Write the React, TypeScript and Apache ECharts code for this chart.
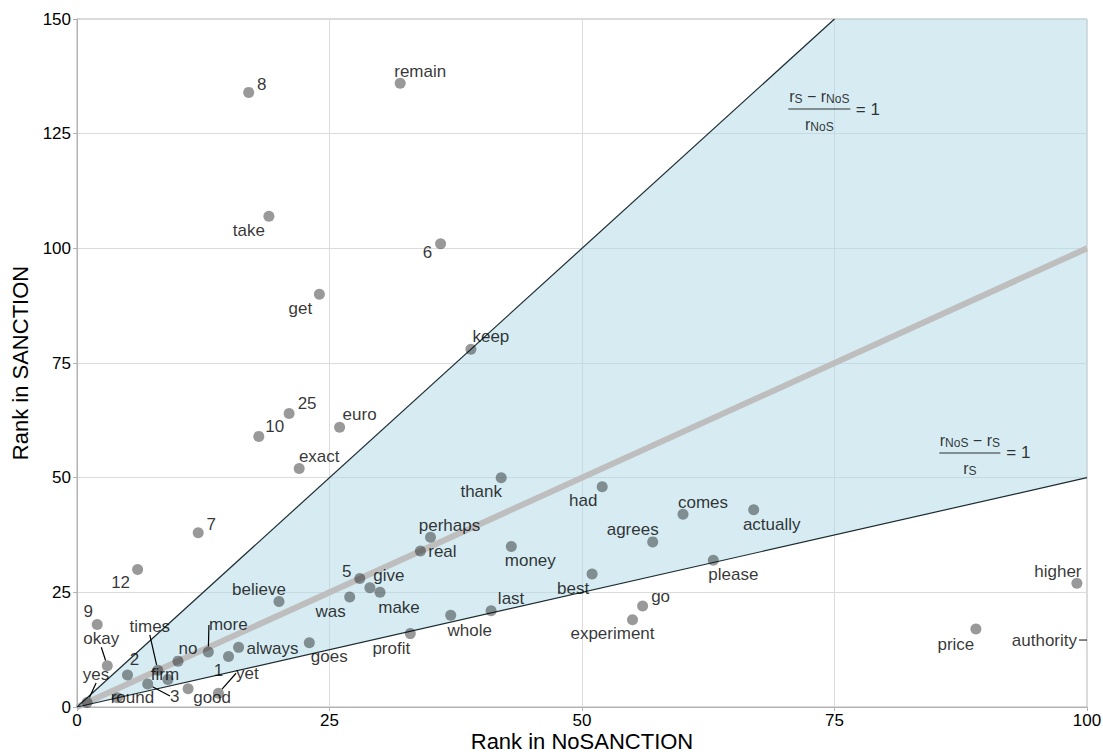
import React, { useEffect, useRef } from 'react';
import * as echarts from 'echarts';

// ---- data ----
const words = [
  '8', 'remain', 'take', '6', 'get', 'keep', '25', 'euro', '10', 'exact',
  'thank', 'had', 'comes', 'actually', '7', 'perhaps', 'agrees', 'money', 'real', 'please',
  '12', 'best', '5', 'give', 'make', 'was', 'believe', 'go', 'experiment', 'higher',
  'last', 'whole', 'profit', 'price', '9', 'goes', 'always', 'more', 'no', '1',
  'times', 'firm', '2', 'okay', 'yes', 'round', '3', 'good', 'yet',
];
const rankNoSanction = [
  17, 32, 19, 36, 24, 39, 21, 26, 18, 22,
  42, 52, 60, 67, 12, 35, 57, 43, 34, 63,
  6, 51, 28, 29, 30, 27, 20, 56, 55, 99,
  41, 37, 33, 89, 2, 23, 16, 13, 10, 15,
  8, 9, 5, 3, 1, 4, 7, 11, 14,
];
const rankSanction = [
  134, 136, 107, 101, 90, 78, 64, 61, 59, 52,
  50, 48, 42, 43, 38, 37, 36, 35, 34, 32,
  30, 29, 28, 26, 25, 24, 23, 22, 19, 27,
  21, 20, 16, 17, 18, 14, 13, 12, 10, 11,
  8, 6, 7, 9, 1, 2, 5, 4, 3,
];
// word whose NoSANCTION rank lies beyond the axis (shown at the panel edge)
const offChartWord = 'authority';
const offChartSanction = 14.6;

const xTicks = [0, 25, 50, 75, 100];
const yTicks = [0, 25, 50, 75, 100, 125, 150];

// reference lines: r_S = 2 r_NoS, r_S = r_NoS, r_S = 0.5 r_NoS
const upperRatio = 2;
const equalRatio = 1;
const lowerRatio = 0.5;

// ---- presentation ----
const FONT = '"Liberation Sans", Arial, Helvetica, sans-serif';

const labelOffsets: Record<string, [number, number]> = {
  '8': [13, -8], remain: [20, -12], take: [-20, 14], '6': [-13, 9], get: [-19, 14],
  keep: [20, -13], '25': [18, -10], euro: [20, -13], '10': [16, -10], exact: [20, -12],
  thank: [-20, 14], had: [-19, 14], comes: [20, -12], actually: [18, 15], '7': [13, -8],
  perhaps: [19, -12], agrees: [-20, -12], money: [19, 14], real: [22, 0], please: [20, 14],
  '12': [-17, 13], best: [-19, 15], '5': [-13, -7], give: [19, -12], make: [19, 15],
  was: [-19, 15], believe: [-20, -12], go: [18, -10], experiment: [-20, 14], higher: [-19, -12],
  last: [20, -12], whole: [19, 15], profit: [-19, 15], price: [-20, 15], '9': [-9, -13],
  goes: [20, 14], always: [34, 1], more: [20, -27], no: [10, -13], '1': [-10, 14],
  times: [-8, -44], firm: [-3, -5], '2': [7, -15], okay: [-6, -27], yes: [9, -28],
  round: [15, 0], '3': [27, 12], good: [24, 9], yet: [29, -20],
};
const withLeader = new Set(['okay', 'yes', 'times', 'more', '3', 'yet']);

export default function App() {
  const ref = useRef<HTMLDivElement>(null);

  useEffect(() => {
    document.body.style.margin = '0';
    if (!ref.current) return;
    const chart = echarts.init(ref.current, undefined, { renderer: 'svg' });

    const xMax = xTicks[xTicks.length - 1];
    const yMax = yTicks[yTicks.length - 1];
    const shade = [
      [0, 0],
      [yMax / upperRatio, yMax],
      [xMax, yMax],
      [xMax, xMax * lowerRatio],
    ];

    const pointData = words.map((w, i) => ({
      name: w,
      value: [rankNoSanction[i], rankSanction[i]],
      labelLine: { show: withLeader.has(w) },
    }));

    const lineSeries = (ratio: number, color: string, width: number, z: number) => {
      const xEnd = Math.min(xMax, yMax / ratio);
      return {
        type: 'line',
        data: [[0, 0], [xEnd, xEnd * ratio]],
        symbol: 'none',
        silent: true,
        z,
        lineStyle: { color, width },
      };
    };

    const labelLayout = (params: any) => {
      const off = labelOffsets[params.text] || [0, 0];
      return { dx: off[0], dy: off[1] };
    };

    const fracRich = {
      a: { fontSize: 16, fontFamily: FONT, color: '#000', lineHeight: 20, verticalAlign: 'bottom' },
      s: { fontSize: 12, fontFamily: FONT, color: '#000', lineHeight: 10, verticalAlign: 'bottom' },
      bar: { width: 62, height: 1, backgroundColor: '#000', lineHeight: 8 },
      bar2: { width: 61, height: 1, backgroundColor: '#000', lineHeight: 8 },
      eq: { fontSize: 17, fontFamily: FONT, color: '#000' },
    };

    chart.setOption({
      animation: false,
      backgroundColor: '#ffffff',
      grid: {
        left: 77, right: 16, top: 19, bottom: 48,
        outerBoundsMode: 'none',
        containLabel: false,
        show: true, borderColor: '#b3b3b3', borderWidth: 1, backgroundColor: 'transparent',
      },
      xAxis: {
        type: 'value', min: 0, max: xMax, interval: 25,
        name: 'Rank in NoSANCTION', nameLocation: 'middle', nameGap: 22,
        nameMoveOverlap: false,
        nameTextStyle: { fontSize: 22, fontFamily: FONT, color: '#000', lineHeight: 24 },
        axisLine: { show: true, lineStyle: { color: '#b3b3b3' } },
        axisTick: { show: true, length: 4, lineStyle: { color: '#b3b3b3' } },
        axisLabel: { fontSize: 17, fontFamily: FONT, color: '#000', margin: 5 },
        splitLine: { show: true, lineStyle: { color: '#dcdcdc' } },
      },
      yAxis: {
        type: 'value', min: 0, max: yMax, interval: 25,
        name: 'Rank in SANCTION', nameLocation: 'middle', nameGap: 44,
        nameTextStyle: { fontSize: 22, fontFamily: FONT, color: '#000' },
        axisLine: { show: true, lineStyle: { color: '#b3b3b3' } },
        axisTick: { show: true, length: 4, lineStyle: { color: '#b3b3b3' } },
        axisLabel: { fontSize: 17, fontFamily: FONT, color: '#000', margin: 6 },
        splitLine: { show: true, lineStyle: { color: '#dcdcdc' } },
      },
      series: [
        {
          type: 'custom',
          silent: true,
          z: 1,
          data: [[0, 0]],
          renderItem: (params: any, api: any) => ({
            type: 'polygon',
            shape: { points: shade.map((p) => api.coord(p)) },
            style: { fill: 'rgba(173,216,230,0.5)' },
          }),
        },
        lineSeries(equalRatio, '#bebebe', 6, 2),
        lineSeries(upperRatio, '#1c2b30', 1.2, 3),
        lineSeries(lowerRatio, '#1c2b30', 1.2, 3),
        {
          type: 'scatter',
          z: 5,
          symbolSize: 11,
          itemStyle: { color: 'rgba(0,0,0,0.5)' },
          data: pointData,
          label: {
            show: true, position: 'inside', formatter: '{b}',
            fontSize: 17, fontFamily: FONT, color: '#000',
          },
          labelLine: { lineStyle: { color: '#000', width: 1.2 } },
          labelLayout,
        },
        {
          type: 'scatter',
          z: 5,
          symbolSize: 0,
          clip: false,
          silent: true,
          data: [{ name: offChartWord, value: [xMax, offChartSanction] }],
          label: {
            show: true, position: 'left', distance: 0,
            formatter: '{t|{b}}{d| }',
            rich: {
              t: { fontSize: 17, fontFamily: FONT, color: '#000', padding: [0, 2, 0, 0] },
              d: { width: 8, height: 1.2, backgroundColor: '#000' },
            },
          },
        },
        {
          type: 'scatter',
          z: 6,
          symbolSize: 0,
          silent: true,
          data: [
            {
              value: [73.5, 130.4],
              label: { formatter: '{a|r}{s|S}{a| − r}{s|NoS}\n{bar| }\n{a|r}{s|NoS}' },
            },
            { value: [78.3, 130.2], label: { formatter: '{eq|= 1}' } },
            {
              value: [88.4, 55.4],
              label: { formatter: '{a|r}{s|NoS}{a| − r}{s|S}\n{bar2| }\n{a|r}{s|S}' },
            },
            { value: [93.2, 55.4], label: { formatter: '{eq|= 1}' } },
          ],
          label: { show: true, position: 'inside', align: 'center', rich: fracRich },
        },
      ],
    });

    return () => chart.dispose();
  }, []);

  return <div ref={ref} style={{ width: 1103, height: 755 }} />;
}
